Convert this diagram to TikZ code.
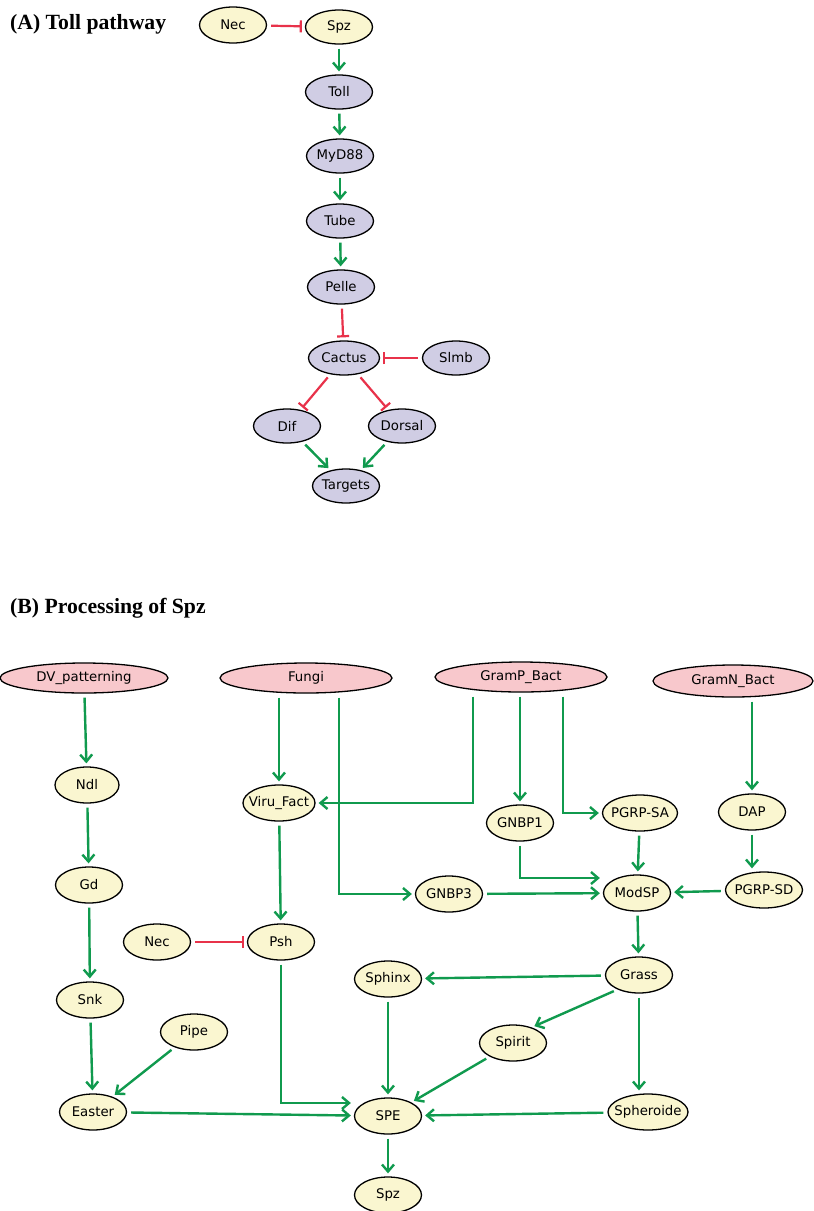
\documentclass[tikz,border=0pt]{standalone}
\usepackage{fontspec}
\setmainfont{DejaVu Sans}
\newfontfamily\titlefont{Liberation Serif}
\usetikzlibrary{arrows.meta,shapes.geometric}

\definecolor{actgreen}{RGB}{16,154,78}
\definecolor{inhred}{RGB}{232,50,74}
\definecolor{geneyellow}{RGB}{250,246,208}
\definecolor{tollblue}{RGB}{208,205,228}
\definecolor{srcpink}{RGB}{248,200,204}

\tikzset{
    gene/.style={ellipse, draw=black, line width=1.3pt, fill=geneyellow,
        minimum width=67pt, minimum height=36pt, inner xsep=-8pt, inner ysep=0pt,
        font=\fontsize{13.3}{15}\selectfont},
    tollgene/.style={gene, fill=tollblue, minimum height=34pt},
    source/.style={gene, fill=srcpink, minimum height=30pt},
    act/.style={draw=actgreen, line width=2.4pt, -{Straight Barb[length=7pt,width=12pt]},
        shorten <=4pt, shorten >=3pt},
    inh/.style={draw=inhred, line width=2.2pt, -{Bar[width=12pt]},
        shorten <=4pt, shorten >=3pt},
    paneltitle/.style={anchor=base west, inner sep=0pt,
        font=\titlefont\bfseries\fontsize{21.7}{24}\selectfont}
}

\begin{document}
\begin{tikzpicture}[x=1pt,y=-1pt]
    \path[fill=white, use as bounding box] (0,0) rectangle (814,1211);

    % Panel A
    \node[paneltitle] (titleA) at (10,29) {(A) Toll pathway};

    \node[gene] (necA) at (233,25) {Nec};
    \node[gene, minimum height=34pt] (spzA) at (339,27) {Spz};
    \node[tollgene] (toll) at (339,92) {Toll};
    \node[tollgene] (myd88) at (340,156) {MyD88};
    \node[tollgene] (tube) at (340,221) {Tube};
    \node[tollgene] (pelle) at (341,287) {Pelle};
    \node[tollgene, minimum width=71pt] (cactus) at (344,358) {Cactus};
    \node[tollgene] (slmb) at (456,358) {Slmb};
    \node[tollgene] (dif) at (287,426) {Dif};
    \node[tollgene] (dorsal) at (402,426) {Dorsal};
    \node[tollgene] (targets) at (346,486) {Targets};

    \draw[inh] (necA) -- (spzA);
    \foreach \a/\b in {spzA/toll, toll/myd88, myd88/tube, tube/pelle} {
        \draw[act] (\a) -- (\b);
    }
    \draw[inh] (pelle) -- (cactus);
    \draw[inh] (slmb) -- (cactus);
    \draw[inh] (cactus) -- (dif);
    \draw[inh] (cactus) -- (dorsal);
    \draw[act] (dif) -- (targets);
    \draw[act] (dorsal) -- (targets);

    % Panel B
    \node[paneltitle] (titleB) at (10,613) {(B) Processing of Spz};

    % Sources
    \node[source, minimum width=168pt] (dvp) at (84,678) {DV\_patterning};
    \node[source, minimum width=172pt] (fungi) at (306,678) {Fungi};
    \node[source, minimum width=172pt] (gramp) at (521,677) {GramP\_Bact};
    \node[source, minimum width=160pt, minimum height=32pt] (gramn) at (733,681) {GramN\_Bact};

    % Genes
    \node[gene, minimum width=64pt] (ndl) at (87,785) {Ndl};
    \node[gene, minimum width=72pt] (viru) at (279,803) {Viru\_Fact};
    \node[gene] (gnbp1) at (520,823) {GNBP1};
    \node[gene, minimum width=75pt] (pgrpsa) at (640,813) {PGRP-SA};
    \node[gene] (dap) at (752,812) {DAP};
    \node[gene] (gd) at (89,885) {Gd};
    \node[gene] (gnbp3) at (449,894) {GNBP3};
    \node[gene] (modsp) at (637,893) {ModSP};
    \node[gene, minimum width=77pt] (pgrpsd) at (764,890) {PGRP-SD};
    \node[gene] (necB) at (157,942) {Nec};
    \node[gene] (psh) at (281,942) {Psh};
    \node[gene] (snk) at (90,1000) {Snk};
    \node[gene] (sphinx) at (388,979) {Sphinx};
    \node[gene] (grass) at (639,975) {Grass};
    \node[gene] (pipe) at (194,1032) {Pipe};
    \node[gene] (spirit) at (513,1043) {Spirit};
    \node[gene] (easter) at (93,1112) {Easter};
    \node[gene] (spe) at (388,1116) {SPE};
    \node[gene, minimum width=80pt] (spheroide) at (648,1112) {Spheroide};
    \node[gene] (spzB) at (388,1195) {Spz};

    % Left chain
    \foreach \a/\b in {dvp/ndl, ndl/gd, gd/snk, snk/easter, pipe/easter, easter/spe} {
        \draw[act] (\a) -- (\b);
    }

    % Fungi and bacteria
    \draw[act] (fungi.south -| viru) -- (viru);
    \draw[act] ([xshift=33pt]fungi.south) |- (gnbp3);
    \draw[act] ([xshift=-48pt]gramp.south) |- (viru);
    \draw[act] (gramp.south -| gnbp1) -- (gnbp1);
    \draw[act] ([xshift=42pt]gramp.south) |- (pgrpsa);
    \draw[act] (gramn.south -| dap) -- (dap);
    \draw[act] (dap) -- (dap |- pgrpsd.north);

    % ModSP cascade
    \draw[act] (gnbp1.south) |- ([yshift=15pt]modsp.west);
    \draw[act] (gnbp3) -- (modsp);
    \draw[act] (pgrpsa) -- (modsp);
    \draw[act] (pgrpsd) -- (modsp);
    \draw[act] (modsp) -- (grass);
    \draw[act] (grass) -- (sphinx);
    \draw[act] (grass.214) -- (spirit.40);
    \draw[act] (grass) -- (grass |- spheroide.north);

    % Into SPE
    \draw[act] (viru) -- (psh);
    \draw[inh] (necB) -- (psh);
    \draw[act] (psh.south) |- ([yshift=13pt]spe.west);
    \draw[act] (sphinx) -- (spe);
    \draw[act] (spirit) -- (spe);
    \draw[act] (spheroide) -- (spe);
    \draw[act] (spe) -- (spzB);
\end{tikzpicture}
\end{document}
